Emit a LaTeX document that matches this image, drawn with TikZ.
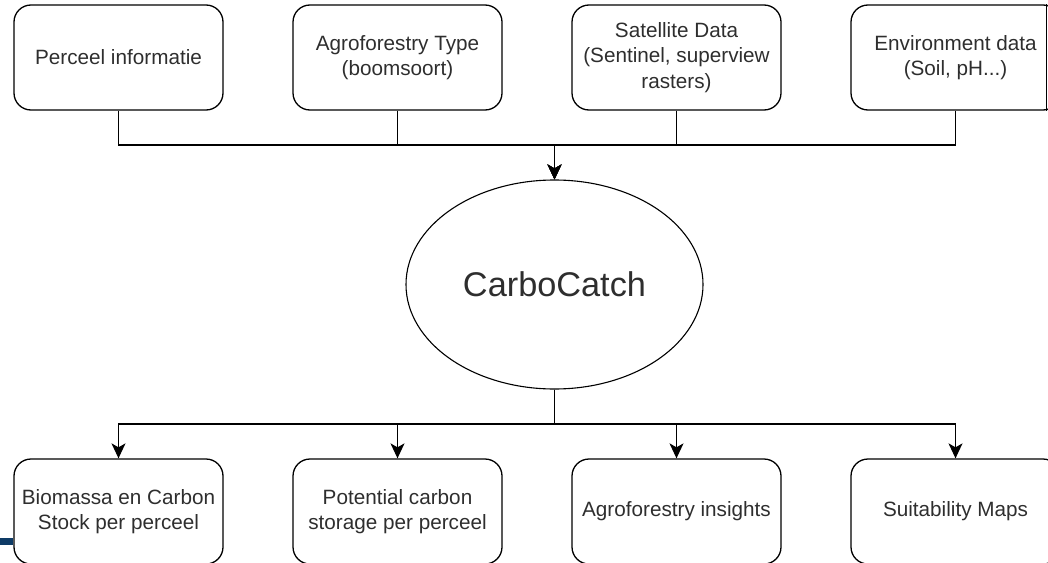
\documentclass[tikz,border=0pt]{standalone}
\usepackage{fontspec}
\setmainfont{Liberation Sans}
\usetikzlibrary{shapes.geometric,arrows.meta}
\definecolor{txt}{HTML}{2E2E2E}
\definecolor{bar}{HTML}{0E3B66}
\begin{document}
\begin{tikzpicture}[x=1pt,y=-1pt,
  box/.style={draw=black,line width=1.3pt,rounded corners=17pt,minimum width=209pt,minimum height=105pt,inner sep=0pt,align=center,text=txt,font=\fontsize{20.7}{25.5}\selectfont},
  oval/.style={ellipse,draw=black,line width=1.1pt,minimum width=297pt,minimum height=209pt,inner sep=0pt,text=txt,font=\fontsize{34.3}{40}\selectfont},
  conn/.style={draw=black,line width=1.3pt},
  arr/.style={conn,-{Stealth[length=15pt,width=14pt,inset=4pt]}}]
\useasboundingbox (0,0) rectangle (1048,562);
% top row
\node[box] (p1) at (118.5,57.5) {Perceel informatie};
\node[box] (p2) at (397.5,57.5) {Agroforestry Type\\(boomsoort)};
\node[box] (p3) at (676.5,57.5) {Satellite Data\\(Sentinel, superview\\rasters)};
\node[box] (p4) at (955.5,57.5) {Environment data\\(Soil, pH...)};
\draw[conn] (1046.5,0 |- p4.north) -- (1046.5,0 |- p4.south);
% centre
\node[oval] (c) at (554.5,284.5) {CarboCatch};
% bottom row
\node[box] (b1) at (118.5,511.5) {Biomassa en Carbon\\Stock per perceel};
\node[box] (b2) at (397.5,511.5) {Potential carbon\\storage per perceel};
\node[box] (b3) at (676.5,511.5) {Agroforestry insights};
\node[box] (b4) at (955.5,511.5) {Suitability Maps};
% buses
\coordinate (tb) at (554.5,145);
\coordinate (bb) at (554.5,424);
\foreach \n in {p1,p2,p3,p4}{\draw[arr] (\n.south) |- (tb) -- (c.north);}
\foreach \n in {b1,b2,b3,b4}{\draw[arr] (c.south) -- (bb) -| (\n.north);}
% blue bar
\fill[bar] (0,538) rectangle (b1.west |- 0,545);
\end{tikzpicture}
\end{document}
